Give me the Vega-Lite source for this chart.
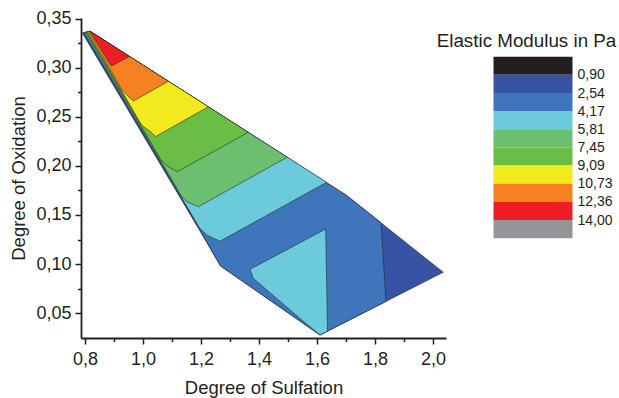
{
  "$schema": "https://vega.github.io/schema/vega-lite/v6.json",
  "width": 365,
  "height": 320,
  "autosize": {"type": "none"},
  "padding": {"left": 81, "top": 18, "right": 173, "bottom": 60},
  "config": {
    "font": "Liberation Sans",
    "view": {"stroke": null},
    "axis": {"grid": false, "domainColor": "#231f20", "tickColor": "#231f20", "labelColor": "#231f20", "titleColor": "#231f20", "labelFont": "Liberation Sans", "titleFont": "Liberation Sans", "titleFontWeight": "normal"}
  },
  "datasets": {
    "polys": [
      {"poly": 0, "band": "0,90–2,54", "i": 0, "x": 0.7907, "y": 0.3357},
      {"poly": 0, "band": "0,90–2,54", "i": 1, "x": 0.81724, "y": 0.33745},
      {"poly": 0, "band": "0,90–2,54", "i": 2, "x": 1.70241, "y": 0.1699},
      {"poly": 0, "band": "0,90–2,54", "i": 3, "x": 2.03552, "y": 0.09153},
      {"poly": 0, "band": "0,90–2,54", "i": 4, "x": 1.61034, "y": 0.02755},
      {"poly": 0, "band": "0,90–2,54", "i": 5, "x": 1.26724, "y": 0.09796},
      {"poly": 0, "band": "0,90–2,54", "i": 6, "x": 1.20172, "y": 0.13112},

      {"poly": 1, "band": "2,54–4,17", "i": 0, "x": 0.79434, "y": 0.33595},
      {"poly": 1, "band": "2,54–4,17", "i": 1, "x": 0.81724, "y": 0.33745},
      {"poly": 1, "band": "2,54–4,17", "i": 2, "x": 1.70241, "y": 0.1699},
      {"poly": 1, "band": "2,54–4,17", "i": 3, "x": 1.82069, "y": 0.14204},
      {"poly": 1, "band": "2,54–4,17", "i": 4, "x": 1.83793, "y": 0.06184},
      {"poly": 1, "band": "2,54–4,17", "i": 5, "x": 1.61034, "y": 0.02755},
      {"poly": 1, "band": "2,54–4,17", "i": 6, "x": 1.26724, "y": 0.09796},
      {"poly": 1, "band": "2,54–4,17", "i": 7, "x": 1.20345, "y": 0.13102},

      {"poly": 2, "band": "4,17–5,81", "i": 0, "x": 0.798, "y": 0.33619},
      {"poly": 2, "band": "4,17–5,81", "i": 1, "x": 0.81724, "y": 0.33745},
      {"poly": 2, "band": "4,17–5,81", "i": 2, "x": 1.63345, "y": 0.18337},
      {"poly": 2, "band": "4,17–5,81", "i": 3, "x": 1.26552, "y": 0.12327},
      {"poly": 2, "band": "4,17–5,81", "i": 4, "x": 1.21966, "y": 0.12959},
      {"poly": 2, "band": "4,17–5,81", "i": 5, "x": 1.19517, "y": 0.13673},

      {"poly": 3, "band": "4,17–5,81", "i": 0, "x": 1.36897, "y": 0.09459},
      {"poly": 3, "band": "4,17–5,81", "i": 1, "x": 1.63, "y": 0.13571},
      {"poly": 3, "band": "4,17–5,81", "i": 2, "x": 1.63621, "y": 0.03143},
      {"poly": 3, "band": "4,17–5,81", "i": 3, "x": 1.61034, "y": 0.02755},
      {"poly": 3, "band": "4,17–5,81", "i": 4, "x": 1.54138, "y": 0.04439},
      {"poly": 3, "band": "4,17–5,81", "i": 5, "x": 1.38034, "y": 0.08541},

      {"poly": 4, "band": "5,81–7,45", "i": 0, "x": 0.80166, "y": 0.33643},
      {"poly": 4, "band": "5,81–7,45", "i": 1, "x": 0.81724, "y": 0.33745},
      {"poly": 4, "band": "5,81–7,45", "i": 2, "x": 1.49759, "y": 0.20898},
      {"poly": 4, "band": "5,81–7,45", "i": 3, "x": 1.19069, "y": 0.15847},
      {"poly": 4, "band": "5,81–7,45", "i": 4, "x": 1.15069, "y": 0.16357},
      {"poly": 4, "band": "5,81–7,45", "i": 5, "x": 1.13034, "y": 0.17041},

      {"poly": 5, "band": "7,45–9,09", "i": 0, "x": 0.80531, "y": 0.33667},
      {"poly": 5, "band": "7,45–9,09", "i": 1, "x": 0.81724, "y": 0.33745},
      {"poly": 5, "band": "7,45–9,09", "i": 2, "x": 1.3631, "y": 0.23439},
      {"poly": 5, "band": "7,45–9,09", "i": 3, "x": 1.11828, "y": 0.19418},
      {"poly": 5, "band": "7,45–9,09", "i": 4, "x": 1.08724, "y": 0.19929},
      {"poly": 5, "band": "7,45–9,09", "i": 5, "x": 1.06207, "y": 0.20612},

      {"poly": 6, "band": "9,09–10,73", "i": 0, "x": 0.809, "y": 0.33691},
      {"poly": 6, "band": "9,09–10,73", "i": 1, "x": 0.81724, "y": 0.33745},
      {"poly": 6, "band": "9,09–10,73", "i": 2, "x": 1.22517, "y": 0.26041},
      {"poly": 6, "band": "9,09–10,73", "i": 3, "x": 1.04379, "y": 0.2301},
      {"poly": 6, "band": "9,09–10,73", "i": 4, "x": 1.03, "y": 0.23398},
      {"poly": 6, "band": "9,09–10,73", "i": 5, "x": 0.99483, "y": 0.24184},

      {"poly": 7, "band": "10,73–12,36", "i": 0, "x": 0.81293, "y": 0.33716},
      {"poly": 7, "band": "10,73–12,36", "i": 1, "x": 0.81724, "y": 0.33745},
      {"poly": 7, "band": "10,73–12,36", "i": 2, "x": 1.08724, "y": 0.28643},
      {"poly": 7, "band": "10,73–12,36", "i": 3, "x": 0.96724, "y": 0.26633},
      {"poly": 7, "band": "10,73–12,36", "i": 4, "x": 0.95276, "y": 0.2701},
      {"poly": 7, "band": "10,73–12,36", "i": 5, "x": 0.92828, "y": 0.27755},

      {"poly": 8, "band": "12,36–14,00", "i": 0, "x": 0.81662, "y": 0.33741},
      {"poly": 8, "band": "12,36–14,00", "i": 1, "x": 0.81724, "y": 0.33745},
      {"poly": 8, "band": "12,36–14,00", "i": 2, "x": 0.95276, "y": 0.31184},
      {"poly": 8, "band": "12,36–14,00", "i": 3, "x": 0.89138, "y": 0.30204},
      {"poly": 8, "band": "12,36–14,00", "i": 4, "x": 0.88448, "y": 0.3048}
    ],
    "legend": [
      {"band": "<0,90", "lo": -0.74, "hi": 0.9},
      {"band": "0,90–2,54", "lo": 0.9, "hi": 2.54},
      {"band": "2,54–4,17", "lo": 2.54, "hi": 4.17},
      {"band": "4,17–5,81", "lo": 4.17, "hi": 5.81},
      {"band": "5,81–7,45", "lo": 5.81, "hi": 7.45},
      {"band": "7,45–9,09", "lo": 7.45, "hi": 9.09},
      {"band": "9,09–10,73", "lo": 9.09, "hi": 10.73},
      {"band": "10,73–12,36", "lo": 10.73, "hi": 12.36},
      {"band": "12,36–14,00", "lo": 12.36, "hi": 14.0},
      {"band": ">14,00", "lo": 14.0, "hi": 15.64}
    ]
  },
  "layer": [
    {
      "data": {"name": "polys"},
      "mark": {"type": "line", "interpolate": "linear-closed", "stroke": "#231f20", "strokeWidth": 0.55, "strokeJoin": "round"},
      "encoding": {
        "x": {
          "field": "x", "type": "quantitative",
          "scale": {"domain": [0.786207, 2.044828], "nice": false, "zero": false},
          "axis": {
            "values": [0.8, 0.9, 1.0, 1.1, 1.2, 1.3, 1.4, 1.5, 1.6, 1.7, 1.8, 1.9, 2.0],
            "labelExpr": "round(datum.value*10)%2==1 ? '' : replace(format(datum.value,'.1f'),'.',',')",
            "tickSize": {"condition": {"test": "round(datum.value*10)%2==1", "value": 3.5}, "value": 6},
            "tickWidth": 1.5, "domainWidth": 1.8,
            "labelFontSize": 18, "labelPadding": 6, "labelFlush": false, "labelOverlap": false,
            "title": "Degree of Sulfation", "titleFontSize": 18.5, "titlePadding": 10.5
          }
        },
        "y": {
          "field": "y", "type": "quantitative",
          "scale": {"domain": [0.02449, 0.35102], "nice": false, "zero": false},
          "axis": {
            "values": [0.05, 0.075, 0.1, 0.125, 0.15, 0.175, 0.2, 0.225, 0.25, 0.275, 0.3, 0.325, 0.35],
            "labelExpr": "round(datum.value*200)%2==1 ? '' : replace(format(datum.value,'.2f'),'.',',')",
            "tickSize": {"condition": {"test": "round(datum.value*200)%2==1", "value": 3.5}, "value": 6},
            "tickWidth": 1.5, "domainWidth": 1.8,
            "labelFontSize": 18, "labelPadding": 4, "labelFlush": false, "labelOverlap": false,
            "title": "Degree of Oxidation", "titleFontSize": 18.5, "titlePadding": 7
          }
        },
        "detail": {"field": "poly", "type": "nominal"},
        "order": {"field": "i", "type": "quantitative"},
        "fill": {
          "field": "band", "type": "nominal", "legend": null,
          "scale": {
            "domain": ["<0,90", "0,90–2,54", "2,54–4,17", "4,17–5,81", "5,81–7,45", "7,45–9,09", "9,09–10,73", "10,73–12,36", "12,36–14,00", ">14,00"],
            "range": ["#231f20", "#3953a4", "#3e75bb", "#6bcbdb", "#6cbf6f", "#6abd45", "#f2ea1c", "#f68121", "#ed1f24", "#939598"]
          }
        }
      }
    },
    {
      "data": {"name": "legend"},
      "mark": {"type": "rect"},
      "encoding": {
        "x": {"datum": 0, "type": "quantitative", "scale": {"domain": [-5.2215, -0.6013], "nice": false, "zero": false}, "axis": null},
        "x2": {"datum": 1},
        "y": {
          "field": "lo", "type": "quantitative",
          "scale": {"domain": [-4.233, 24.65], "reverse": true, "nice": false, "zero": false},
          "axis": {
            "orient": "right", "offset": 127,
            "values": [0.9, 2.54, 4.17, 5.81, 7.45, 9.09, 10.73, 12.36, 14.0],
            "labelExpr": "replace(format(datum.value,'.2f'),'.',',')",
            "ticks": false, "domain": false,
            "labelFontSize": 14, "labelPadding": 4, "labelFlush": false, "labelOverlap": false,
            "title": "Elastic Modulus in Pa", "titleFontSize": 18.8, "titleAngle": 0,
            "titleAlign": "center", "titleBaseline": "alphabetic", "titleX": -47, "titleY": 28.7
          }
        },
        "y2": {"field": "hi"},
        "fill": {"field": "band", "type": "nominal", "legend": null}
      }
    }
  ],
  "resolve": {"scale": {"x": "independent", "y": "independent"}}
}
